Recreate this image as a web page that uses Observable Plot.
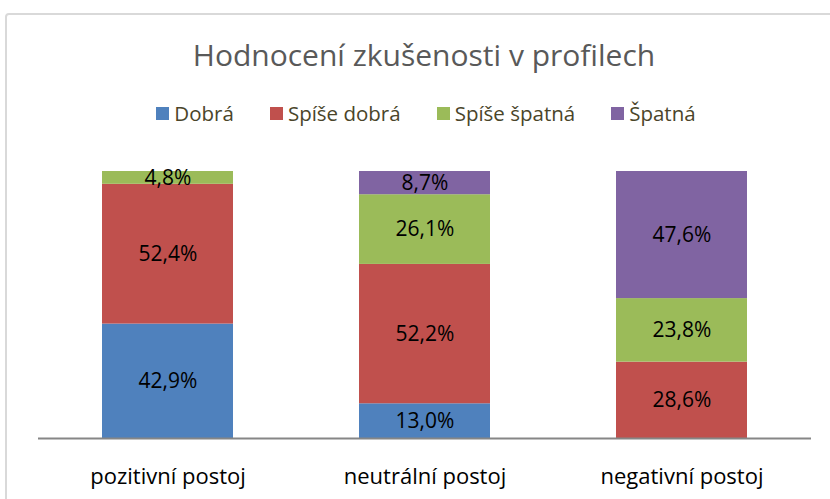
<!DOCTYPE html>
<html>
<head>
<meta charset="utf-8">
<script src="https://cdn.jsdelivr.net/npm/d3@7"></script>
<script src="https://cdn.jsdelivr.net/npm/@observablehq/plot@0.6"></script>
<style>
  html, body { margin: 0; padding: 0; background: #fff; }
  body { width: 830px; height: 499px; position: relative; overflow: hidden; font-family: "Open Sans", Lato, sans-serif; }
  #frame { position: absolute; left: 5px; top: 13px; width: 900px; height: 600px; border: 2px solid #d9d9d9; border-radius: 4px; box-sizing: border-box; }
  #title { position: absolute; left: 0; width: 848px; top: 37px; text-align: center; font-size: 30px; line-height: 36px; color: #595959; white-space: nowrap; }
  #legend { position: absolute; left: 0; width: 852px; top: 100.6px; display: flex; justify-content: center; font-size: 20.5px; line-height: 24px; color: #4a452a; white-space: nowrap; }
  .item { display: flex; align-items: center; margin: 0 18px; }
  .sw { width: 13px; height: 13px; margin-right: 5px; margin-top: 1px; }
  #chart { position: absolute; left: 0; top: 0; }
</style>
</head>
<body>
<div id="frame"></div>
<div id="title"></div>
<div id="legend"></div>
<div id="chart"></div>
<script>
const titleText = "Hodnocení zkušenosti v profilech";
const categories = ["pozitivní postoj", "neutrální postoj", "negativní postoj"];
const seriesNames = ["Dobrá", "Spíše dobrá", "Spíše špatná", "Špatná"];
const seriesColors = ["#4f81bd", "#c0504d", "#9bbb59", "#8064a2"];
const dobra = [42.9, 13.0, 0];
const spiseDobra = [52.4, 52.2, 28.6];
const spiseSpatna = [4.8, 26.1, 23.8];
const spatna = [0, 8.7, 47.6];
const seriesValues = [dobra, spiseDobra, spiseSpatna, spatna];

document.getElementById("title").textContent = titleText;
const legend = document.getElementById("legend");
seriesNames.forEach((s, j) => {
  const it = document.createElement("div");
  it.className = "item";
  const sw = document.createElement("span");
  sw.className = "sw";
  sw.style.background = seriesColors[j];
  const tx = document.createElement("span");
  tx.textContent = s;
  it.appendChild(sw); it.appendChild(tx);
  legend.appendChild(it);
});

const rows = [];
categories.forEach((c, i) => seriesNames.forEach((s, j) => rows.push({category: c, series: s, value: seriesValues[j][i]})));
const labelled = rows.filter(d => d.value > 0);
const fmt = d => d.value.toFixed(1).replace(".", ",") + "%";

const chart = Plot.plot({
  width: 830,
  height: 499,
  marginTop: 171,
  marginBottom: 61,
  marginLeft: 38,
  marginRight: 19,
  style: {fontFamily: "'Open Sans', Lato, sans-serif", background: "transparent"},
  x: {type: "band", domain: categories, paddingInner: 0.49, paddingOuter: 0.245, axis: null},
  y: {domain: [0, 1], axis: null},
  color: {domain: seriesNames, range: seriesColors},
  marks: [
    Plot.barY(rows, Plot.stackY({offset: "normalize"}, {x: "category", y: "value", fill: "series", inset: 0})),
    Plot.text(labelled, Plot.stackY({offset: "normalize"}, {x: "category", y: "value", text: fmt, fontSize: 21, fill: "#000", lineAnchor: "middle"})),
    Plot.ruleY([0], {stroke: "#868686", strokeWidth: 2}),
    Plot.text(categories, {x: d => d, frameAnchor: "bottom", dy: 38, text: d => d, fontSize: 22, fill: "#000", lineAnchor: "middle"})
  ]
});
document.getElementById("chart").appendChild(chart);
</script>
</body>
</html>
